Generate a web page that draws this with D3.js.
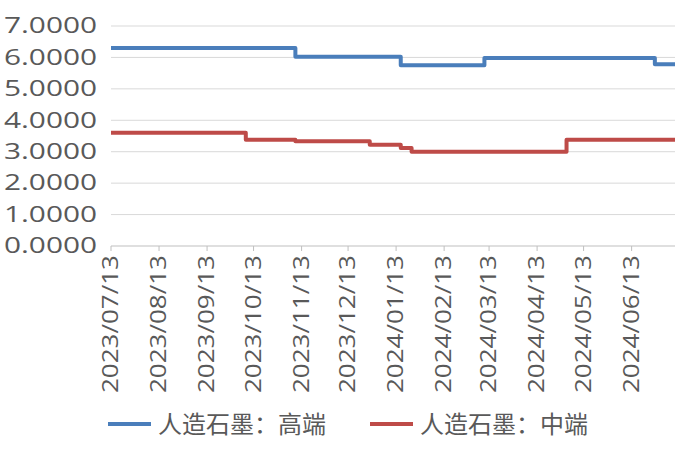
<!DOCTYPE html>
<html><head><meta charset="utf-8">
<script src="https://cdn.jsdelivr.net/npm/d3@7"></script>
<style>body{margin:0;background:#fff}</style></head>
<body><svg id="c" width="700" height="459"></svg>
<script>
const highDates = ["2023-07-13","2023-11-09","2024-01-16","2024-03-10","2024-06-28","2024-07-11"];
const highValues = [6.30,6.02,5.75,5.98,5.78,5.78];
const midDates = ["2023-07-13","2023-10-08","2023-11-09","2023-12-27","2024-01-16","2024-01-23","2024-05-02","2024-07-11"];
const midValues = [3.60,3.38,3.33,3.22,3.12,3.00,3.38,3.38];
const tickDates = ["2023-07-13","2023-08-13","2023-09-13","2023-10-13","2023-11-13","2023-12-13","2024-01-13","2024-02-13","2024-03-13","2024-04-13","2024-05-13","2024-06-13"];
const yTicks = [0,1,2,3,4,5,6,7];
const seriesNames = ["人造石墨：高端","人造石墨：中端"];
const colors = ["#4a7ebb","#be4b48"];

const p = d3.timeParse("%Y-%m-%d");
const svg = d3.select("#c");
const x = d3.scaleTime().domain([p("2023-07-13"), p("2024-07-11")]).range([111,675]);
const y = d3.scaleLinear().domain([0,7]).range([246,26]);
const font = "'Open Sans', 'Liberation Sans', sans-serif";

svg.append("g").selectAll("line").data(yTicks).join("line")
  .attr("x1",111).attr("x2",675).attr("y1",d=>y(d)).attr("y2",d=>y(d))
  .attr("stroke",d=>d===0?"#bfbfbf":"#d9d9d9").attr("stroke-width",1);
svg.append("g").selectAll("text").data(yTicks).join("text")
  .attr("x",97).attr("y",d=>y(d)).attr("dy","0.35em").attr("text-anchor","end")
  .attr("font-family",font).attr("font-size",21).attr("fill","#595959")
  .attr("textLength",93).attr("lengthAdjust","spacingAndGlyphs")
  .text(d=>d3.format(".4f")(d));
svg.append("g").selectAll("line").data(tickDates).join("line")
  .attr("x1",d=>x(p(d))).attr("x2",d=>x(p(d))).attr("y1",246).attr("y2",251).attr("stroke","#bfbfbf");
svg.append("g").selectAll("text").data(tickDates).join("text")
  .attr("transform",d=>`translate(${x(p(d))+7},255) rotate(-90)`)
  .attr("text-anchor","end").attr("font-family",font).attr("font-size",21).attr("fill","#595959")
  .attr("textLength",138).attr("lengthAdjust","spacingAndGlyphs")
  .text(d=>d.replace(/-/g,"/"));

const line = d3.line().curve(d3.curveStepAfter).x(d=>x(d[0])).y(d=>y(d[1]));
const series = [highDates.map((d,i)=>[p(d),highValues[i]]), midDates.map((d,i)=>[p(d),midValues[i]])];
series.forEach((s,i)=>svg.append("path").attr("d",line(s)).attr("fill","none")
  .attr("stroke",colors[i]).attr("stroke-width",4).attr("stroke-linejoin","round"));

const lx=[108,370];
seriesNames.forEach((n,i)=>{
  svg.append("line").attr("x1",lx[i]).attr("x2",lx[i]+43).attr("y1",424).attr("y2",424)
    .attr("stroke",colors[i]).attr("stroke-width",4);
  svg.append("text").attr("x",lx[i]+50).attr("y",424).attr("dy","0.36em")
    .attr("font-family","'Noto Sans CJK SC', sans-serif").attr("font-size",24).attr("fill","#595959").text(n);
});
</script></body></html>
